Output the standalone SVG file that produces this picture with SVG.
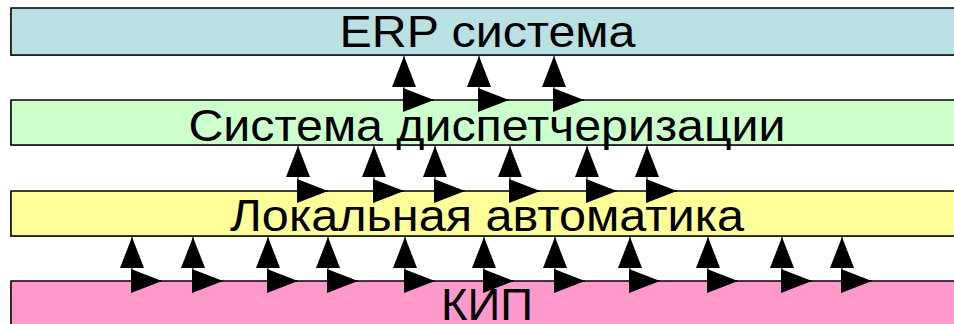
<svg xmlns="http://www.w3.org/2000/svg" width="954" height="324" viewBox="0 0 954 324">
  <style>
    .shadow { fill: #8c8c8c; }
    .bar { stroke: #000; stroke-width: 1.5; }
    .label { font-family: "Liberation Sans", Arial, sans-serif; font-size: 44px; fill: #000; text-anchor: middle; }
    .link { fill: none; stroke: #000; stroke-width: 1; marker-start: url(#head); marker-end: url(#head); }
  </style>
  <defs>
    <marker id="head" markerUnits="userSpaceOnUse" markerWidth="31" markerHeight="24" refX="31" refY="12" orient="auto-start-reverse" viewBox="0 0 31 24">
      <polygon points="0,0 31,12 0,24" fill="#000"/>
    </marker>
  </defs>

  <!-- layers -->
  <g id="erp">
    <rect class="shadow" x="10" y="9" width="970" height="47"/>
    <rect class="bar" x="11" y="8" width="970" height="47" fill="#b9e0e3"/>
    <text class="label" x="487.5" y="47" textLength="296" lengthAdjust="spacingAndGlyphs">ERP система</text>
  </g>
  <g id="dispatch">
    <rect class="shadow" x="10" y="101" width="970" height="45"/>
    <rect class="bar" x="11" y="100" width="970" height="45" fill="#ccffcc"/>
    <text class="label" x="487" y="141" textLength="597" lengthAdjust="spacingAndGlyphs">Система диспетчеризации</text>
  </g>
  <g id="automation">
    <rect class="shadow" x="10" y="192" width="970" height="45"/>
    <rect class="bar" x="11" y="191" width="970" height="45" fill="#ffff99"/>
    <text class="label" x="487" y="231" textLength="514" lengthAdjust="spacingAndGlyphs">Локальная автоматика</text>
  </g>
  <g id="kip">
    <rect class="shadow" x="10" y="282" width="970" height="60"/>
    <rect class="bar" x="11" y="281" width="970" height="60" fill="#ff99cc"/>
    <text class="label" x="487" y="320" textLength="92" lengthAdjust="spacingAndGlyphs">КИП</text>
  </g>

  <!-- connectors between layers -->
  <g id="connectors">
    <path class="link" d="M404,56 V100 H434"/>
    <path class="link" d="M479,56 V100 H509"/>
    <path class="link" d="M554,56 V100 H584"/>

    <path class="link" d="M298,146 V191 H328"/>
    <path class="link" d="M374,146 V191 H404"/>
    <path class="link" d="M435,146 V191 H465"/>
    <path class="link" d="M510,146 V191 H540"/>
    <path class="link" d="M587,146 V191 H617"/>
    <path class="link" d="M647,146 V191 H677"/>

    <path class="link" d="M132,237 V281 H162"/>
    <path class="link" d="M193,237 V281 H223"/>
    <path class="link" d="M268,237 V281 H298"/>
    <path class="link" d="M328,237 V281 H358"/>
    <path class="link" d="M405,237 V281 H435"/>
    <path class="link" d="M484,237 V281 H514"/>
    <path class="link" d="M555,237 V281 H585"/>
    <path class="link" d="M630,237 V281 H660"/>
    <path class="link" d="M708,237 V281 H738"/>
    <path class="link" d="M782,237 V281 H812"/>
    <path class="link" d="M842,237 V281 H872"/>
  </g>
</svg>
